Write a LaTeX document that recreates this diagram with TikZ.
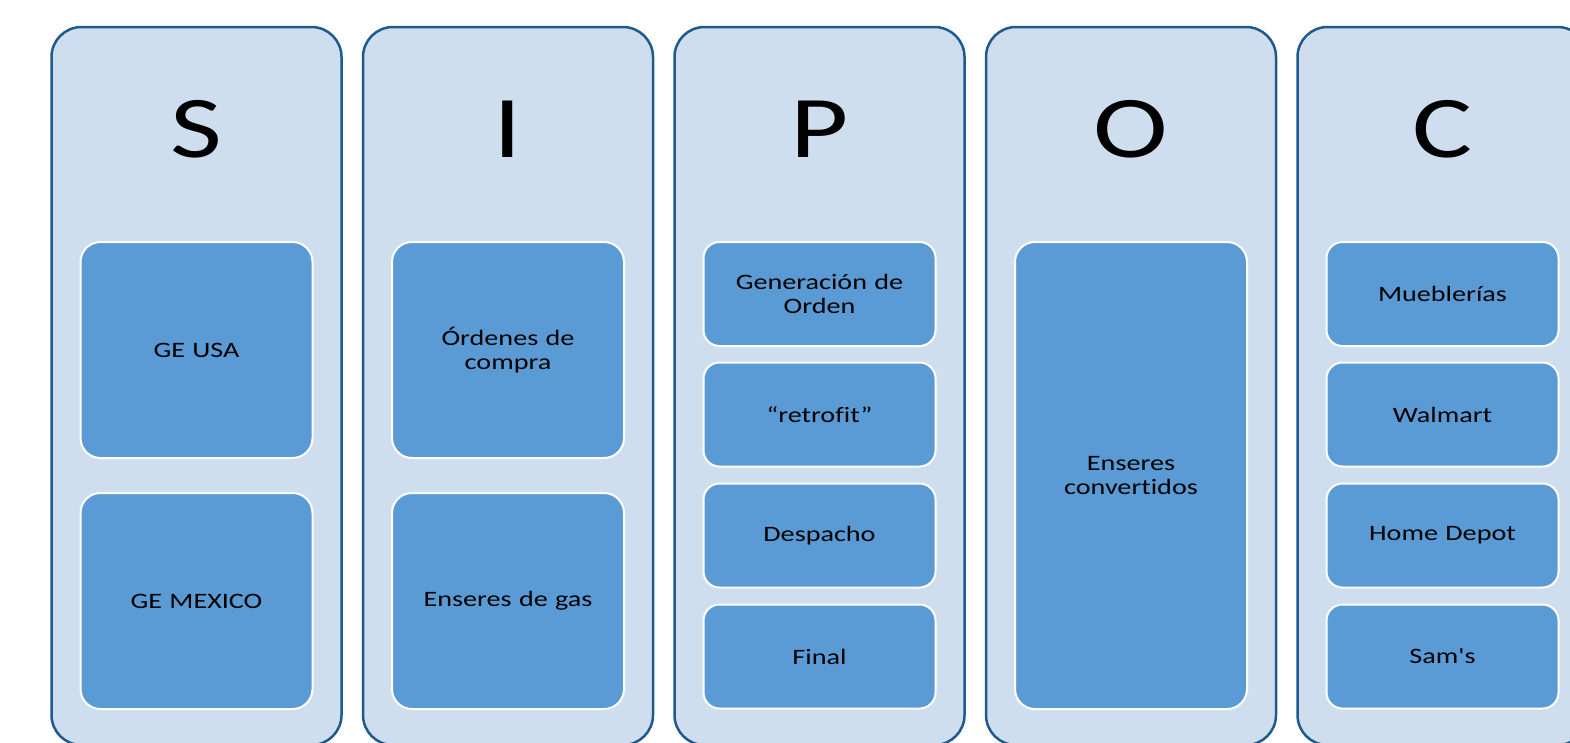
\documentclass[tikz,border=0pt]{standalone}
\usepackage{fontspec}
\setmainfont{Carlito}[FakeStretch=1.28, Ligatures={TeXOff,CommonOff}]
\definecolor{colfill}{RGB}{207,222,238}
\definecolor{coledge}{RGB}{31,90,140}
\definecolor{itemfill}{RGB}{91,155,213}

\begin{document}
\begin{tikzpicture}[x=1pt, y=-1pt,
    col/.style = {draw=coledge, line width=2.5pt, fill=colfill,
      rounded corners=30pt, minimum width=290pt, minimum height=718pt},
    head/.style = {font=\fontsize{88}{88}\selectfont, anchor=base, inner sep=0pt},
    item/.style = {draw=white, line width=2pt, fill=itemfill,
      rounded corners=16pt, minimum width=232pt, text width=210pt,
      align=center, inner sep=0pt, font=\fontsize{22}{24.5}\selectfont},
    big/.style = {item, minimum height=216pt, rounded corners=20pt},
    small/.style = {item, minimum height=104pt}]
    \useasboundingbox (0,0) rectangle (1570,742);
    \clip (0,0) rectangle (1570,742);
    % columns with their letters
    \foreach \l [count=\i from 0] in {S,I,P,O,C} {
      \node[col] (col\l) at (196.5+311.5*\i, 386) {};
      \node[head] (head\l) at (196.5+311.5*\i, 157) {\l};
    }
    % S
    \node[big] (geusa) at (196.5, 350) {GE USA};
    \node[big] (gemex) at (196.5, 601) {GE MEXICO};
    % I
    \node[big] (ordenes) at (508, 350) {Órdenes de\\compra};
    \node[big] (enseres) at (508, 601) {Enseres de gas};
    % P
    \node[small] (genorden) at (819.5, 294) {Generación de\\Orden};
    \node[small] (retrofit) at (819.5, 414.5) {“retrofit”};
    \node[small] (despacho) at (819.5, 535.5) {Despacho};
    \node[small] (final) at (819.5, 656.5) {Final};
    % O
    \node[item, minimum height=467pt, rounded corners=20pt] (convertidos)
      at (1131, 475.5) {Enseres\\convertidos};
    % C
    \node[small] (mueblerias) at (1442.5, 294) {Mueblerías};
    \node[small] (walmart) at (1442.5, 414.5) {Walmart};
    \node[small] (homedepot) at (1442.5, 535.5) {Home Depot};
    \node[small] (sams) at (1442.5, 656.5) {Sam's};
\end{tikzpicture}
\end{document}
